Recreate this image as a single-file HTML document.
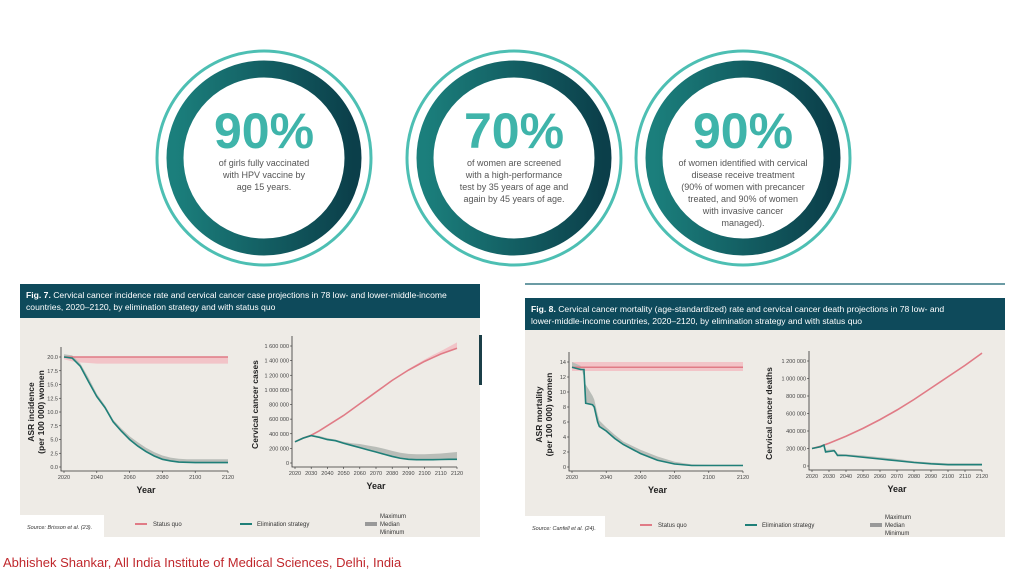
<!DOCTYPE html>
<html><head><meta charset="utf-8"><style>
html,body{margin:0;padding:0;background:#fff;width:1024px;height:574px;overflow:hidden;font-family:"Liberation Sans",sans-serif}
svg text{font-family:"Liberation Sans",sans-serif}
</style></head><body>
<svg id="s" width="1024" height="574" viewBox="0 0 1024 574" xmlns="http://www.w3.org/2000/svg">
<defs>
<linearGradient id="rg" x1="0" y1="0" x2="1" y2="0"><stop offset="0" stop-color="#1b7f7c"/><stop offset="1" stop-color="#0b3f4a"/></linearGradient>
</defs>
</svg>
<script>
// ---- Data ----
const yrs5=[2020,2025,2030,2035,2040,2045,2050,2055,2060,2065,2070,2075,2080,2085,2090,2095,2100,2105,2110,2115,2120];
// Fig7 left: incidence per 100 000
const incSQ=[20,20,20,20,20,20,20,20,20,20,20,20,20,20,20,20,20,20,20,20,20];
const incSQmin=[19.6,19.2,19,18.9,18.8,18.8,18.8,18.8,18.8,18.8,18.8,18.8,18.8,18.8,18.8,18.8,18.8,18.8,18.8,18.8,18.8];
const incEl=[20,19.8,18.3,15.5,12.8,10.8,8.2,6.5,5.0,3.8,2.8,2.0,1.4,1.1,0.9,0.85,0.8,0.8,0.8,0.8,0.8];
const incElMax=[20.5,20.3,18.8,16.2,13.3,11.2,8.6,7.0,5.6,4.5,3.5,2.7,2.1,1.7,1.5,1.4,1.4,1.4,1.4,1.4,1.4];
// Fig7 right: cases (thousands)
const casesSQ=[290,340,380,440,510,580,650,730,810,890,970,1050,1130,1200,1270,1330,1390,1440,1490,1530,1570];
const casesSQmax=[290,340,385,445,515,585,655,735,815,895,975,1055,1135,1210,1285,1350,1415,1475,1530,1590,1650];
const casesEl=[290,340,375,350,320,305,270,240,210,180,150,120,90,65,50,45,45,45,48,50,50];
const casesElMax=[290,345,385,370,340,320,290,270,260,240,220,195,165,140,125,120,120,125,130,140,150];
// Fig8 left: mortality per 100 000
const morSQ=[13.3,13.3];
const morSQmin=[12.8,12.8];
const morSQmax=[14,14];
const morSQyrs=[2020,2120];
const morYrs=[2020,2025,2027,2028,2032,2033,2035,2036,2040,2045,2050,2060,2070,2080,2090,2100,2120];
const morEl=[13.3,13.0,13.0,8.5,8.3,8.0,6.0,5.4,4.8,3.8,3.0,1.8,0.9,0.4,0.2,0.2,0.2];
const morElMax=[14,13.5,12,11,9.5,9,7,6.2,5.3,4.3,3.4,2.3,1.4,0.7,0.35,0.3,0.3];
// Fig8 right: deaths (thousands)
const dYrs=[2020,2025,2030,2040,2050,2060,2070,2080,2090,2100,2110,2120];
const deathsSQ=[200,225,260,340,430,530,640,760,890,1020,1150,1290];
const deathsSQmax=[200,228,265,348,440,540,650,770,900,1030,1160,1300];
const dElYrs=[2020,2025,2027,2028,2033,2034,2035,2040,2050,2060,2070,2080,2090,2100,2120];
const deathsEl=[200,220,240,160,175,150,120,120,100,80,60,40,25,15,15];
const deathsElMax=[200,225,245,185,190,170,140,135,120,100,80,55,40,30,30];
// Tick labels
const tickInc=[0,2.5,5,7.5,10,12.5,15,17.5,20];
const tickIncLbl=["0.0","2.5","5.0","7.5","10.0","12.5","15.0","17.5","20.0"];
const tickCases=[0,200,400,600,800,1000,1200,1400,1600];
const tickCasesLbl=["0","200 000","400 000","600 000","800 000","1 000 000","1 200 000","1 400 000","1 600 000"];
const tickMor=[0,2,4,6,8,10,12,14];
const tickDeaths=[0,200,400,600,800,1000,1200];
const tickDeathsLbl=["0","200 000","400 000","600 000","800 000","1 000 000","1 200 000"];
const yrTicks20=[2020,2040,2060,2080,2100,2120];
const yrTicks10=[2020,2030,2040,2050,2060,2070,2080,2090,2100,2110,2120];

const NS="http://www.w3.org/2000/svg";
const S=document.getElementById('s');
function mk(tag,at,parent){const e=document.createElementNS(NS,tag);for(const k in at)e.setAttribute(k,at[k]);(parent||S).appendChild(e);return e;}
function txt(x,y,s,at,parent){const e=mk('text',Object.assign({x:x,y:y},at),parent);e.textContent=s;return e;}

// ---- Circles ----
const circ=[[264,"90%",["of girls fully vaccinated","with HPV vaccine by","age 15 years."]],
 [514,"70%",["of women are screened","with a high-performance","test by 35 years of age and","again by 45 years of age."]],
 [743,"90%",["of women identified with cervical","disease receive treatment","(90% of women with precancer","treated, and 90% of women","with invasive cancer","managed)."]]];
circ.forEach((c,i)=>{
 const g=mk('g',{});
 
 
 mk('circle',{cx:c[0],cy:158,r:107,fill:'none',stroke:'#4dbfb3','stroke-width':3},g);
 mk('circle',{cx:c[0],cy:158,r:89,fill:'#fff',stroke:'url(#rg)','stroke-width':17},g);
 const p=txt(c[0],148,c[1],{'text-anchor':'middle','font-size':50,'font-weight':'bold',fill:'#3fb4aa'},g);
 
 
 c[2].forEach((l,j)=>{const t=txt(c[0],166+j*12,l,{'text-anchor':'middle','font-size':9,fill:'#555'},g);
  
  });
});

// ---- Panels ----
function panel(x,w,hy,hh,by,bh,l1,l2,num,name){
 const g=mk('g',{});
 
 
 mk('rect',{x:x,y:by,width:w,height:bh,fill:'#eeebe6'},g);
 mk('rect',{x:x,y:hy,width:w,height:hh,fill:'#0e4a5b'},g);
 const t=txt(x+6,hy+14,'',{'font-size':8.6,fill:'#fff'},g);
 const b=mk('tspan',{'font-weight':'bold'},t);b.textContent=num+' ';
 const r=mk('tspan',{},t);r.textContent=l1;
 
 
 const t2=txt(x+6,hy+26,l2,{'font-size':8.6,fill:'#fff'},g);
 
 
 return g;
}
panel(20,460,284,34,318,219,"Cervical cancer incidence rate and cervical cancer case projections in 78 low- and lower-middle-income","countries, 2020–2120, by elimination strategy and with status quo","Fig. 7.","figure-7-panel");
const ln=mk('line',{x1:525,y1:284,x2:1005,y2:284,stroke:'#3a7a85','stroke-width':1.5});


panel(525,480,298,32,330,207,"Cervical cancer mortality (age-standardized) rate and cervical cancer death projections in 78 low- and","lower-middle-income countries, 2020–2120, by elimination strategy and with status quo","Fig. 8.","figure-8-panel");
mk('rect',{x:479,y:335,width:3,height:50,fill:'#1b3f48'});

// ---- Charts ----
function chart(o){
 const g=mk('g',{});
 
 
 const X=v=>o.x0+(v-2020)/100*(o.x1-o.x0);
 const Y=v=>o.y0-(v/o.ymax)*(o.y0-o.y1);
 function band(xs,lo,hi,fill,nm){
  let d='M'+xs.map((x,i)=>X(x)+','+Y(hi[i])).join('L');
  for(let i=xs.length-1;i>=0;i--)d+='L'+X(xs[i])+','+Y(lo[i]);
  const p=mk('path',{d:d+'Z',fill:fill},g);
  
  
 }
 function line(xs,v,col,nm){
  const p=mk('path',{d:'M'+xs.map((x,i)=>X(x)+','+Y(v[i])).join('L'),fill:'none',stroke:col,'stroke-width':1.6},g);
  
  
 }
 o.series.forEach(s=>{band(s.x,s.lo,s.hi,s.band,s.name+'-range');});
 o.series.forEach(s=>{line(s.x,s.v,s.col,s.name+'-line');});
 const ax=mk('path',{d:`M${o.x0-3},${o.y1-10}V${o.y0+4}H${o.x1}`,stroke:'#333',fill:'none','stroke-width':0.8},g);
 
 
 o.yt.forEach((v,i)=>{
  mk('line',{x1:o.x0-5,x2:o.x0-3,y1:Y(v),y2:Y(v),stroke:'#333','stroke-width':0.6},g);
  const t=txt(o.x0-6,Y(v)+2,o.ytl[i],{'text-anchor':'end','font-size':5.5,fill:'#444'},g);
  
  
 });
 o.xt.forEach(v=>{
  mk('line',{x1:X(v),x2:X(v),y1:o.y0+4,y2:o.y0+6,stroke:'#333','stroke-width':0.6},g);
  const t=txt(X(v),o.y0+12,String(v),{'text-anchor':'middle','font-size':5.5,fill:'#444'},g);
  
  
 });
 const xt=txt((o.x0+o.x1)/2,o.y0+26,'Year',{'text-anchor':'middle','font-size':9,'font-weight':'bold',fill:'#222'},g);
 
 
 o.ytitle.forEach((l,i)=>{
  const cy=(o.y0+o.y1)/2, cx=o.ytx+i*10;
  const t=txt(cx,cy,l,{'text-anchor':'middle','font-size':8.5,'font-weight':'bold',fill:'#222',transform:`rotate(-90 ${cx} ${cy})`},g);
  
  
 });
}
const RED='#e07b86',REDB='#f2c4c8',TEAL='#1f7f78',GREY='#b9bdb8';
chart({name:'incidence-chart',x0:64,x1:228,y0:467,y1:357,ymax:20,yt:tickInc,ytl:tickIncLbl,xt:yrTicks20,ytitle:['ASR incidence','(per 100 000) women'],ytx:34,
 series:[{name:'status-quo',x:yrs5,v:incSQ,lo:incSQmin,hi:incSQ,col:RED,band:REDB},
 {name:'elimination',x:yrs5,v:incEl,lo:incEl,hi:incElMax,col:TEAL,band:GREY}]});
chart({name:'cases-chart',x0:295,x1:457,y0:463,y1:346,ymax:1600,yt:tickCases,ytl:tickCasesLbl,xt:yrTicks10,ytitle:['Cervical cancer cases'],ytx:258,
 series:[{name:'status-quo',x:yrs5,v:casesSQ,lo:casesSQ,hi:casesSQmax,col:RED,band:REDB},
 {name:'elimination',x:yrs5,v:casesEl,lo:casesEl,hi:casesElMax,col:TEAL,band:GREY}]});
chart({name:'mortality-chart',x0:572,x1:743,y0:467,y1:362,ymax:14,yt:tickMor,ytl:tickMor.map(String),xt:yrTicks20,ytitle:['ASR mortality','(per 100 000) women'],ytx:542,
 series:[{name:'status-quo',x:morSQyrs,v:morSQ,lo:morSQmin,hi:morSQmax,col:RED,band:REDB},
 {name:'elimination',x:morYrs,v:morEl,lo:morEl,hi:morElMax,col:TEAL,band:GREY}]});
chart({name:'deaths-chart',x0:812,x1:982,y0:466,y1:361,ymax:1200,yt:tickDeaths,ytl:tickDeathsLbl,xt:yrTicks10,ytitle:['Cervical cancer deaths'],ytx:772,
 series:[{name:'status-quo',x:dYrs,v:deathsSQ,lo:deathsSQ,hi:deathsSQmax,col:RED,band:REDB},
 {name:'elimination',x:dElYrs,v:deathsEl,lo:deathsEl,hi:deathsElMax,col:TEAL,band:GREY}]});

// ---- Legends & source ----
function legend(ox,y,src,sw){
 const g=mk('g',{});
 
 
 mk('rect',{x:ox,y:y-6,width:sw,height:22,fill:'#fff'},g);
 const s=txt(ox+7,y+8,src,{'font-size':5.5,'font-style':'italic',fill:'#333'},g);
 
 
 mk('line',{x1:ox+115,x2:ox+127,y1:y+3,y2:y+3,stroke:RED,'stroke-width':2},g);
 const a=txt(ox+133,y+5,'Status quo',{'font-size':6,fill:'#333'},g);
 
 
 mk('line',{x1:ox+220,x2:ox+232,y1:y+3,y2:y+3,stroke:TEAL,'stroke-width':2},g);
 const b=txt(ox+237,y+5,'Elimination strategy',{'font-size':6,fill:'#333'},g);
 
 
 mk('rect',{x:ox+345,y:y+1,width:12,height:4,fill:'#999'},g);
 ['Maximum','Median','Minimum'].forEach((l,i)=>{const t=txt(ox+360,y-3+i*8,l,{'font-size':6,fill:'#333'},g);
  
  });
}
legend(20,521,'Source: Brisson et al. (23).',84);
legend(525,522,'Source: Canfell et al. (24).',80);

const f=txt(3,567,'Abhishek Shankar, All India Institute of Medical Sciences, Delhi, India',{'font-size':13,fill:'#c0282d'});


</script>
</body></html>
